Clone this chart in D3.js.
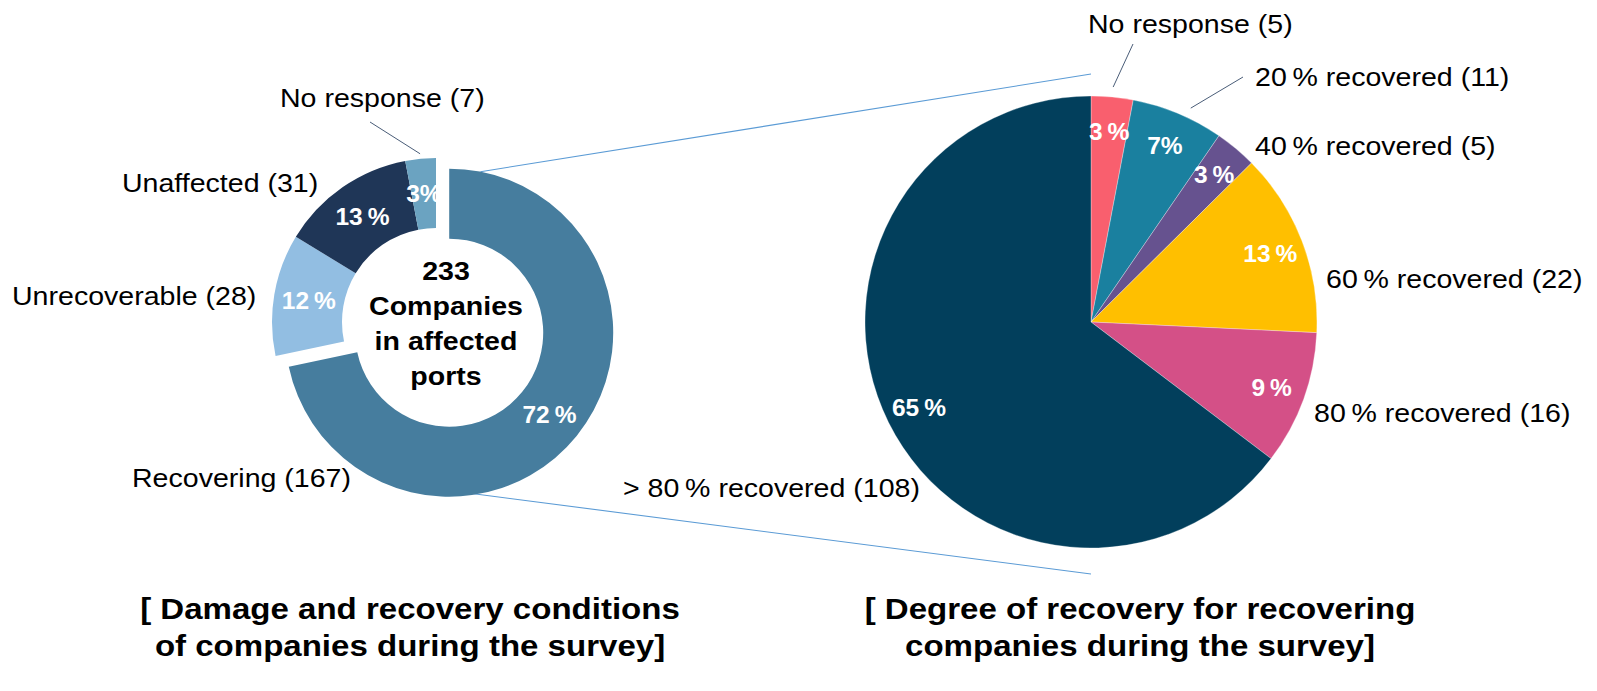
<!DOCTYPE html>
<html>
<head>
<meta charset="utf-8">
<script src="https://cdn.jsdelivr.net/npm/d3@7"></script>
<style>
  body { margin: 0; background: #fff; }
  svg { display: block; }
</style>
</head>
<body>
<div id="chart"></div>
<script>
// Left donut: damage and recovery conditions
const leftCats = ["Recovering", "Unrecoverable", "Unaffected", "No response"];
const leftValues = [167, 28, 31, 7];
const leftPct = ["72\u2009%", "12\u2009%", "13\u2009%", "3%"];
const leftColors = ["#467d9e", "#92bee2", "#1f3657", "#6ba3c1"];

// Right pie: degree of recovery for the recovering companies
const rightCats = ["No response", "20\u2009% recovered", "40\u2009% recovered", "60\u2009% recovered", "80\u2009% recovered", "> 80\u2009% recovered"];
const rightValues = [5, 11, 5, 22, 16, 108];
const rightPct = ["3\u2009%", "7%", "3\u2009%", "13\u2009%", "9\u2009%", "65\u2009%"];
const rightColors = ["#f95f6e", "#1a809f", "#66528f", "#ffbf00", "#d45087", "#023f5c"];

const centerLines = ["233", "Companies", "in affected", "ports"];
const titleLeft = ["[ Damage and recovery conditions", "of companies during the survey]"];
const titleRight = ["[ Degree of recovery for recovering", "companies during the survey]"];

const width = 1597, height = 691;
const font = "'Liberation Sans', Arial, Helvetica, sans-serif";
const sx = 1.12; // the original text is drawn a bit wide

const svg = d3.select("#chart").append("svg")
    .attr("width", width)
    .attr("height", height);

// Layout
const L = { cx: 436, cy: 322, r: 164, ri: 94, explode: 17 };
const R = { cx: 1091, cy: 322, r: 226 };

// label anchors (text start, baseline)
const leftLabelPos = [[132, 487], [12, 305], [122, 192], [280, 107]];
const rightLabelPos = [[1088, 33], [1255, 86], [1255, 155], [1326, 288], [1314, 422], [623, 497]];

function polar(a, r) {
    return [r * Math.sin(a), -r * Math.cos(a)];
}

function addText(g, x, y, s, o) {
    o = o || {};
    return g.append("text")
        .attr("transform", `translate(${x},${y}) scale(${o.sx || sx},1)`)
        .attr("text-anchor", o.anchor || "start")
        .attr("dy", o.dy || null)
        .style("font-family", font)
        .style("font-size", (o.size || 25.5) + "px")
        .style("font-weight", o.bold ? "bold" : "normal")
        .style("fill", o.fill || "#000")
        .text(s);
}

const pie = d3.pie().sort(null).value(d => d);

// ---------- connector lines between the two charts ----------
const leftArcs = pie(leftValues);
const recov = leftArcs[0];
const recMid = (recov.startAngle + recov.endAngle) / 2;
const off = polar(recMid, L.explode);
const rc = [L.cx + off[0], L.cy + off[1]];

const conn = svg.append("g")
    .attr("stroke", "#5b9bd5")
    .attr("stroke-width", 1.1)
    .attr("fill", "none");
const pTop = polar(11 * Math.PI / 180, L.r);
const pBot = polar(183 * Math.PI / 180, L.r - 7);
conn.append("line")
    .attr("x1", rc[0] + pTop[0]).attr("y1", rc[1] + pTop[1])
    .attr("x2", R.cx).attr("y2", R.cy - R.r - 22);
conn.append("line")
    .attr("x1", rc[0] + pBot[0]).attr("y1", rc[1] + pBot[1])
    .attr("x2", R.cx).attr("y2", R.cy + R.r + 26);

// ---------- left donut ----------
const leftArc = d3.arc().innerRadius(L.ri).outerRadius(L.r);
const gl = svg.append("g").attr("transform", `translate(${L.cx},${L.cy})`);

gl.selectAll("path")
    .data(leftArcs)
    .join("path")
    .attr("d", leftArc)
    .attr("fill", (d, i) => leftColors[i])
    .attr("transform", (d, i) => i === 0 ? `translate(${off[0]},${off[1]})` : null);

leftArcs.forEach((d, i) => {
    const c = leftArc.centroid(d);
    const o = i === 0 ? off : [0, 0];
    addText(gl, c[0] + o[0], c[1] + o[1], leftPct[i],
        { anchor: "middle", dy: "0.36em", bold: true, size: 24.5, sx: 1, fill: "#fff" });
});

// centre text
centerLines.forEach((s, i) => {
    addText(svg, L.cx + 10, 280 + i * 35, s, { anchor: "middle", bold: true, size: 25.5 });
});

// category labels
leftCats.forEach((c, i) => {
    const p = leftLabelPos[i];
    addText(svg, p[0], p[1], `${c} (${leftValues[i]})`);
});

// leader line for the small slice
{
    const d = leftArcs[3];
    const a = (d.startAngle + d.endAngle) / 2;
    const p = polar(a, L.r + 5);
    svg.append("line")
        .attr("x1", L.cx + p[0]).attr("y1", L.cy + p[1])
        .attr("x2", 370).attr("y2", 122)
        .attr("stroke", "#4a5d78").attr("stroke-width", 1);
}

// ---------- right pie ----------
const rightArcs = pie(rightValues);
const rightArc = d3.arc().innerRadius(0).outerRadius(R.r);
const gr = svg.append("g").attr("transform", `translate(${R.cx},${R.cy})`);

gr.selectAll("path")
    .data(rightArcs)
    .join("path")
    .attr("d", rightArc)
    .attr("fill", (d, i) => rightColors[i])
    .attr("stroke", "#ffffff")
    .attr("stroke-opacity", 0.5)
    .attr("stroke-width", 0.6);

rightArcs.forEach((d, i) => {
    const a = (d.startAngle + d.endAngle) / 2;
    const p = polar(a, R.r * 0.85);
    addText(gr, p[0], p[1], rightPct[i],
        { anchor: "middle", dy: "0.36em", bold: true, size: 24.5, sx: 1, fill: "#fff" });
});

rightCats.forEach((c, i) => {
    const p = rightLabelPos[i];
    addText(svg, p[0], p[1], `${c} (${rightValues[i]})`);
});

// leader lines for the two smallest top slices
[[0, 1133, 44, 0.5], [1, 1243, 77, 0.6]].forEach(([i, x2, y2, f]) => {
    const d = rightArcs[i];
    const a = d.startAngle + (d.endAngle - d.startAngle) * f;
    const p = polar(a, R.r + 10);
    svg.append("line")
        .attr("x1", R.cx + p[0]).attr("y1", R.cy + p[1])
        .attr("x2", x2).attr("y2", y2)
        .attr("stroke", "#4a5d78").attr("stroke-width", 1);
});

// ---------- titles ----------
titleLeft.forEach((s, i) => {
    addText(svg, 410, 619 + i * 37, s, { anchor: "middle", bold: true, size: 29.5 });
});
titleRight.forEach((s, i) => {
    addText(svg, 1140, 619 + i * 37, s, { anchor: "middle", bold: true, size: 29.5 });
});
</script>
</body>
</html>
